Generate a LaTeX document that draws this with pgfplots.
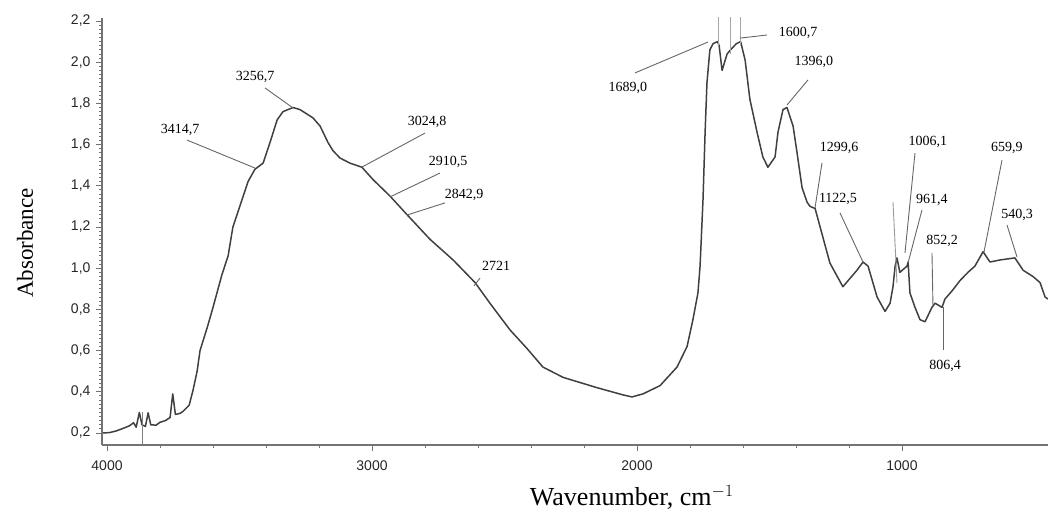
\documentclass[border=0pt]{standalone}
\usepackage{fontspec}
\setmainfont{Liberation Serif}
\newfontfamily\sansf{Liberation Sans}
\usepackage{pgfplots}
\usepackage{pgfplotstable}
\pgfplotsset{compat=1.18}

\pgfplotstableread{
w a
4015 0.200
3990 0.202
3965 0.210
3940 0.222
3915 0.235
3900 0.250
3890 0.228
3878 0.300
3868 0.240
3855 0.232
3845 0.298
3835 0.240
3815 0.238
3800 0.252
3780 0.260
3762 0.275
3752 0.390
3742 0.290
3725 0.295
3713 0.305
3690 0.335
3675 0.410
3660 0.500
3649 0.600
3620 0.720
3600 0.810
3566 0.970
3543 1.060
3525 1.200
3468 1.420
3442 1.480
3411 1.510
3385 1.610
3358 1.720
3336 1.760
3298 1.780
3272 1.770
3223 1.730
3196 1.690
3166 1.610
3147 1.570
3121 1.535
3083 1.510
3038 1.490
2996 1.430
2932 1.350
2868 1.260
2781 1.140
2694 1.040
2611 0.930
2555 0.830
2479 0.700
2415 0.610
2355 0.520
2279 0.470
2151 0.420
2053 0.385
2019 0.375
1977 0.390
1913 0.430
1849 0.520
1811 0.620
1789 0.750
1770 0.880
1762 1.010
1751 1.330
1743 1.660
1736 1.900
1725 2.060
1713 2.090
1696 2.100
1690 2.080
1679 1.960
1660 2.040
1647 2.060
1625 2.090
1609 2.100
1592 2.010
1574 1.820
1547 1.660
1525 1.540
1506 1.490
1479 1.540
1468 1.660
1449 1.770
1434 1.780
1411 1.690
1396 1.560
1377 1.390
1358 1.320
1347 1.300
1328 1.290
1309 1.200
1272 1.025
1223 0.910
1170 0.990
1147 1.030
1128 1.010
1094 0.860
1064 0.790
1045 0.830
1034 0.910
1026 1.010
1019 1.050
1008 0.980
981 1.010
977 1.030
970 0.880
951 0.810
932 0.750
913 0.740
887 0.810
875 0.830
849 0.810
838 0.850
811 0.890
781 0.940
751 0.980
725 1.010
694 1.080
668 1.030
630 1.040
574 1.050
543 0.990
506 0.960
479 0.930
460 0.860
449 0.850
}\spectrum

\begin{document}
\begin{tikzpicture}
\begin{axis}[
  at={(102pt,68pt)}, anchor=south west,
  scale only axis, width=946pt, height=427pt,
  x dir=reverse,
  xmin=449, xmax=4019,
  ymin=0.1417, ymax=2.2146,
  axis x line*=bottom, axis y line*=left,
  axis line style={draw=black!55, line width=1.2pt},
  xtick={1000,2000,3000,4000},
  xticklabels={1000,2000,3000,4000},
  minor x tick num=4,
  ytick={0.2,0.4,0.6,0.8,1.0,1.2,1.4,1.6,1.8,2.0,2.2},
  yticklabels={{0,2},{0,4},{0,6},{0,8},{1,0},{1,2},{1,4},{1,6},{1,8},{2,0},{2,2}},
  minor y tick num=9,
  tick align=outside,
  major tick length=6pt, minor tick length=3pt,
  every tick/.style={draw=black!55, line width=0.9pt},
  ticklabel style={font=\sansf\fontsize{14}{16}\selectfont, text=black!85},
  xticklabel style={yshift=-6pt},
  yticklabel style={xshift=-2pt},
  xlabel={Wavenumber, cm$^{-1}$},
  xlabel style={font=\fontsize{26}{29}\selectfont, at={(axis description cs:0.560,-0.123)}, anchor=center},
  ylabel={Absorbance},
  ylabel style={font=\fontsize{23}{26}\selectfont, at={(axis description cs:-0.0814,0.473)}, anchor=center},
]
\addplot[draw=black!75, line width=1.5pt, line join=round, mark=none] table[x=w,y=a] {\spectrum};
\addplot[draw=black!35, line width=0.9pt, mark=none] coordinates {(1694,2.08) (1694,2.3)};
\addplot[draw=black!35, line width=0.9pt, mark=none] coordinates {(1649,2.04) (1649,2.3)};
\addplot[draw=black!35, line width=0.9pt, mark=none] coordinates {(1611,2.08) (1611,2.3)};

\tikzset{lead/.style={draw=black!60, line width=0.9pt}, lab/.style={font=\fontsize{14}{16}\selectfont, inner sep=0pt}}
\draw[lead, draw=black!50] (axis cs:3868,0.30) -- (axis cs:3868,0.1417);
\draw[lead] (axis cs:3698,1.622) -- (axis cs:3441.5,1.486);
\node[lab] at (axis cs:3724.5,1.671) {3414,7};
\draw[lead] (axis cs:3403.8,1.875) -- (axis cs:3298.1,1.778);
\node[lab] at (axis cs:3441.5,1.928) {3256,7};
\draw[lead] (axis cs:2800,1.656) -- (axis cs:3037.7,1.491);
\node[lab] at (axis cs:2792.5,1.710) {3024,8};
\draw[lead] (axis cs:2743.4,1.462) -- (axis cs:2932.1,1.346);
\node[lab] at (axis cs:2713.2,1.516) {2910,5};
\draw[lead] (axis cs:2724.5,1.317) -- (axis cs:2867.9,1.258);
\node[lab] at (axis cs:2652.8,1.355) {2842,9};
\draw[lead] (axis cs:2592.4,0.952) -- (axis cs:2615.1,0.914);
\node[lab] at (axis cs:2532.1,1.011) {2721};
\draw[lead] (axis cs:2007.5,1.948) -- (axis cs:1732.1,2.098);
\node[lab] at (axis cs:2034,1.875) {1689,0};
\draw[lead] (axis cs:1509.4,2.132) -- (axis cs:1611.3,2.117);
\node[lab] at (axis cs:1392.4,2.142) {1600,7};
\draw[lead] (axis cs:1354.7,1.914) -- (axis cs:1434,1.792);
\node[lab] at (axis cs:1332.1,2.001) {1396,0};
\draw[lead] (axis cs:1301.9,1.511) -- (axis cs:1328.3,1.292);
\node[lab] at (axis cs:1237.7,1.583) {1299,6};
\draw[lead] (axis cs:1233.9,1.268) -- (axis cs:1147.2,1.030);
\node[lab] at (axis cs:1241.5,1.336) {1122,5};
\draw[lead] (axis cs:950.9,1.559) -- (axis cs:988.7,1.074);
\node[lab] at (axis cs:901.9,1.613) {1006,1};
\draw[lead] (axis cs:924.5,1.283) -- (axis cs:977.3,1.025);
\node[lab] at (axis cs:886.8,1.331) {961,4};
\draw[lead] (axis cs:886.8,1.074) -- (axis cs:883,0.812);
\node[lab] at (axis cs:849,1.132) {852,2};
\draw[lead] (axis cs:845.3,0.603) -- (axis cs:845.3,0.812);
\node[lab] at (axis cs:837.7,0.525) {806,4};
\draw[lead] (axis cs:622.6,1.525) -- (axis cs:690.5,1.079);
\node[lab] at (axis cs:603.8,1.583) {659,9};
\draw[lead] (axis cs:603.8,1.210) -- (axis cs:566,1.054);
\node[lab] at (axis cs:566,1.258) {540,3};
\draw[lead, draw=black!40] (axis cs:1034,1.321) -- (axis cs:1018.9,0.928);
\end{axis}
\pgfresetboundingbox
\path[use as bounding box] (0,0) rectangle (1048pt,513pt);
\end{tikzpicture}
\end{document}
